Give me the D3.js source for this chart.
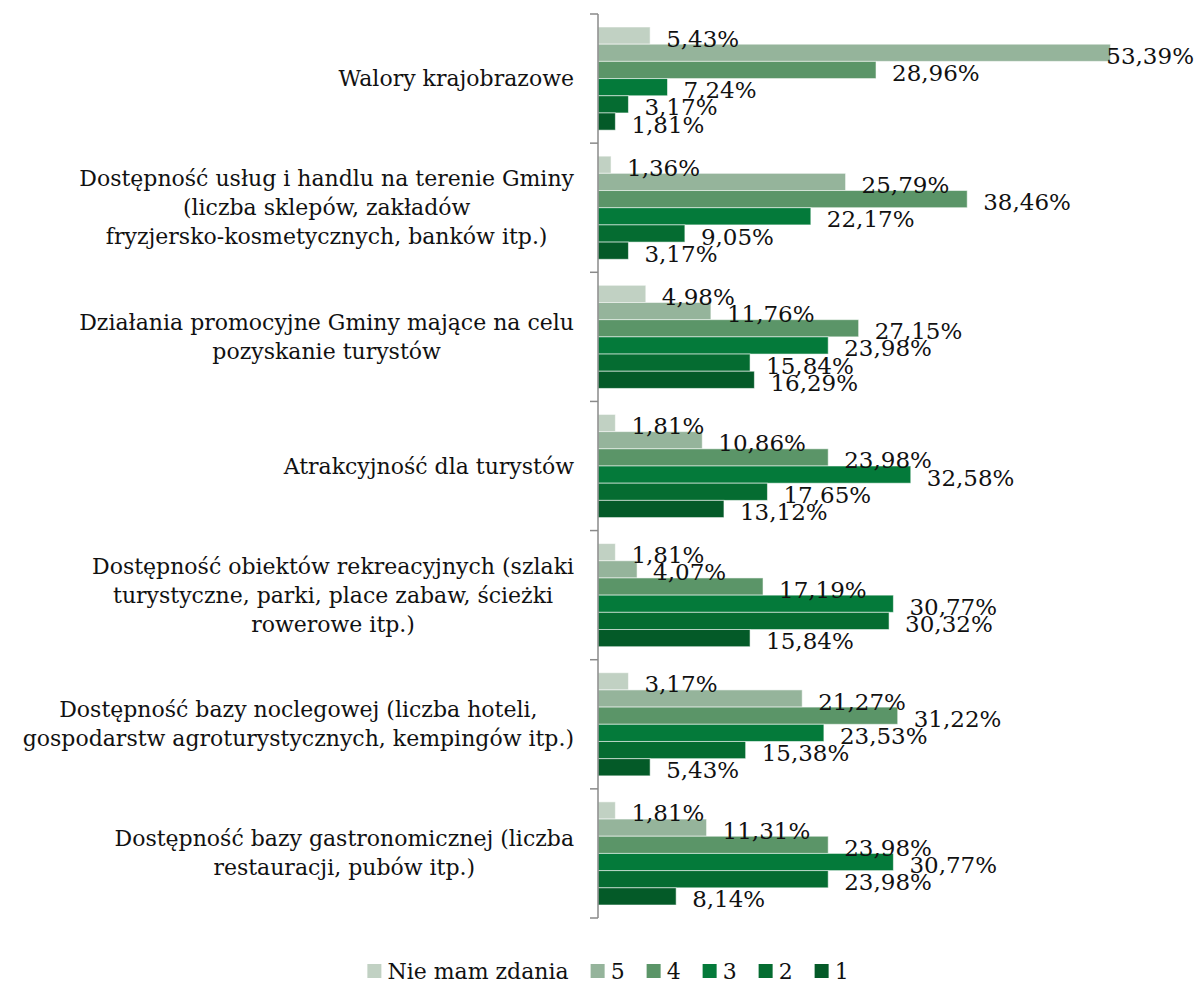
<!DOCTYPE html>
<html>
<head>
<meta charset="utf-8">
<script src="https://cdn.jsdelivr.net/npm/d3@7"></script>
<style>
  body { margin: 0; background: #fff; }
  text { font-family: "DejaVu Serif", "Liberation Serif", serif; fill: #111; }
</style>
</head>
<body>
<div id="chart"></div>
<script>
// categories (line breaks as in the original)
const categories = [
  "Walory krajobrazowe",
  "Dostępność usług i handlu na terenie Gminy\n(liczba sklepów, zakładów\nfryzjersko-kosmetycznych, banków itp.)",
  "Działania promocyjne Gminy mające na celu\npozyskanie turystów",
  "Atrakcyjność dla turystów",
  "Dostępność obiektów rekreacyjnych (szlaki\nturystyczne, parki, place zabaw, ścieżki\nrowerowe itp.)",
  "Dostępność bazy noclegowej (liczba hoteli,\ngospodarstw agroturystycznych, kempingów itp.)",
  "Dostępność bazy gastronomicznej (liczba\nrestauracji, pubów itp.)"
];

const seriesNames = ["Nie mam zdania", "5", "4", "3", "2", "1"];
const seriesColors = ["#c1d1c3", "#95b49b", "#5b9568", "#047a3a", "#056c31", "#045a28"];

// percentages per series, in category order
const nieMamZdania = [5.43, 1.36, 4.98, 1.81, 1.81, 3.17, 1.81];
const ocena5 = [53.39, 25.79, 11.76, 10.86, 4.07, 21.27, 11.31];
const ocena4 = [28.96, 38.46, 27.15, 23.98, 17.19, 31.22, 23.98];
const ocena3 = [7.24, 22.17, 23.98, 32.58, 30.77, 23.53, 30.77];
const ocena2 = [3.17, 9.05, 15.84, 17.65, 30.32, 15.38, 23.98];
const ocena1 = [1.81, 3.17, 16.29, 13.12, 15.84, 5.43, 8.14];
const seriesValues = [nieMamZdania, ocena5, ocena4, ocena3, ocena2, ocena1];

const W = 1196, H = 982;
const margin = { top: 14, right: 0, bottom: 64, left: 598 };

const svg = d3.select("#chart")
  .append("svg")
  .attr("width", W)
  .attr("height", H);

const y0 = d3.scaleBand()
  .domain(categories)
  .range([margin.top, H - margin.bottom])
  .padding(0);

const y1 = d3.scaleBand()
  .domain(seriesNames)
  .range([13, y0.bandwidth() - 13]);

const x = d3.scaleLinear()
  .domain([0, 100])
  .range([margin.left, margin.left + 960]);

const color = d3.scaleOrdinal().domain(seriesNames).range(seriesColors);

const rows = [];
categories.forEach((c, i) => {
  seriesNames.forEach((s, j) => {
    rows.push({ cat: c, series: s, value: seriesValues[j][i] });
  });
});

// bars
svg.append("g")
  .selectAll("rect")
  .data(rows)
  .join("rect")
  .attr("x", x(0))
  .attr("y", d => y0(d.cat) + y1(d.series))
  .attr("width", d => x(d.value) - x(0))
  .attr("height", y1.bandwidth())
  .attr("fill", d => color(d.series))
  .attr("stroke", "#fff")
  .attr("stroke-opacity", 0.55)
  .attr("stroke-width", 1);

// value labels
const fmt = v => v.toFixed(2).replace(".", ",") + "%";
svg.append("g")
  .selectAll("text")
  .data(rows)
  .join("text")
  .attr("x", d => x(d.value) + 16)
  .attr("y", d => y0(d.cat) + y1(d.series) + y1.bandwidth() / 2 + 3)
  .attr("dominant-baseline", "central")
  .style("font-size", "23px")
  .text(d => fmt(d.value))
  .each(function () {
    const w = this.getComputedTextLength();
    const cur = +d3.select(this).attr("x");
    if (cur + w > W - 2) d3.select(this).attr("x", W - 2 - w);
  });

// axis line with ticks at category boundaries
const axis = svg.append("g").attr("stroke", "#8a8a8a").attr("stroke-width", 1.5);
axis.append("line")
  .attr("x1", x(0)).attr("x2", x(0))
  .attr("y1", y0.range()[0]).attr("y2", y0.range()[1]);
const bounds = categories.map(c => y0(c)).concat([y0.range()[1]]);
axis.selectAll("line.tick")
  .data(bounds)
  .join("line")
  .attr("class", "tick")
  .attr("x1", x(0) - 8).attr("x2", x(0))
  .attr("y1", d => d).attr("y2", d => d);

// category labels: block right-aligned, lines centered
const lineH = 29;
const labels = svg.append("g");
categories.forEach(c => {
  const lines = c.split("\n");
  const g = labels.append("g");
  const cy = y0(c) + y0.bandwidth() / 2;
  const texts = lines.map((ln, i) => g.append("text")
    .attr("y", cy + (i - (lines.length - 1) / 2) * lineH)
    .attr("dominant-baseline", "central")
    .attr("text-anchor", "middle")
    .style("font-size", "22px")
    .text(ln));
  const maxW = d3.max(texts, t => t.node().getComputedTextLength());
  texts.forEach(t => t.attr("x", x(0) - 24 - maxW / 2));
});

// legend
const legend = svg.append("g");
let lx = 0;
seriesNames.forEach((s, i) => {
  const item = legend.append("g").attr("transform", `translate(${lx},0)`);
  item.append("rect")
    .attr("x", 0).attr("y", -7)
    .attr("width", 14).attr("height", 14)
    .attr("fill", color(s));
  const t = item.append("text")
    .attr("x", 20)
    .attr("dominant-baseline", "central")
    .style("font-size", "22px")
    .text(s);
  lx += 20 + t.node().getComputedTextLength() + 22;
});
const legendW = lx - 22;
legend.attr("transform", `translate(${(W - legendW) / 2 + 10},${H - 11})`);
</script>
</body>
</html>
